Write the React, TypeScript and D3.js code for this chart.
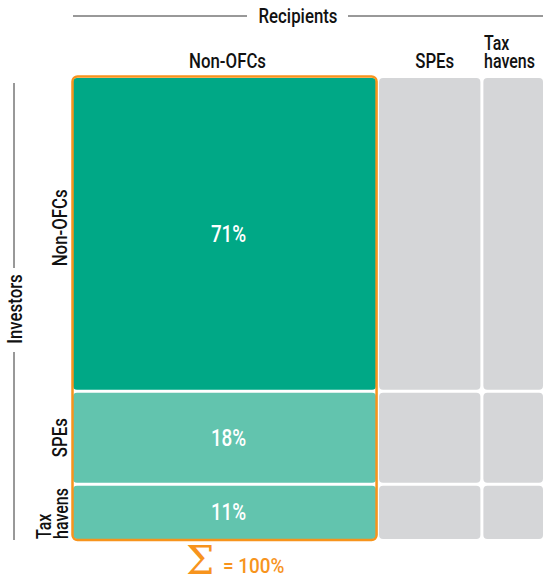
import React from "react";
import * as d3 from "d3";

const recipients = ["Non-OFCs", "SPEs", "Tax havens"];
const investors = ["Non-OFCs", "SPEs", "Tax havens"];
const shares = [71, 18, 11];
const investorRowWeights = [68.5, 19.8, 11.7];
const recipientColWeights = [305, 102, 60];
const totalLabel = "= 100%";

const W = 543;
const H = 579;
const FONT = "Roboto, 'Liberation Sans', sans-serif";

type TProps = {
  x: number;
  y: number;
  rot?: number;
  size?: number;
  weight?: number | string;
  fill?: string;
  anchor?: "start" | "middle" | "end";
  sx?: number;
  children: React.ReactNode;
};

function T({ x, y, rot = 0, size = 20.5, weight = 500, fill = "#111", anchor = "start", sx = 0.82, children }: TProps) {
  return (
    <g transform={`translate(${x},${y}) rotate(${rot}) scale(${sx},1)`}>
      <text x={0} y={0} fontSize={size} fontWeight={weight} fill={fill} textAnchor={anchor} fontFamily={FONT}>
        {children}
      </text>
    </g>
  );
}

export default function App() {
  const gridLeft = 73;
  const gridTop = 78;
  const gridBottom = 539;
  const gap = 3;

  const colEdges = d3.cumsum([0, ...recipientColWeights]);
  const x = d3.scaleLinear().domain([0, colEdges[colEdges.length - 1] + gap * 2]).range([gridLeft, gridLeft + 470]);
  const rowEdges = d3.cumsum([0, ...investorRowWeights]);
  const usableH = gridBottom - gridTop - gap * 2;
  const y = d3.scaleLinear().domain([0, rowEdges[rowEdges.length - 1]]).range([0, usableH]);

  const colX = (i: number) => x(colEdges[i] + i * gap);
  const colW = (i: number) => x(colEdges[i + 1]) - x(colEdges[i]);
  const rowY = (i: number) => gridTop + y(rowEdges[i]) + i * gap;
  const rowH = (i: number) => y(rowEdges[i + 1]) - y(rowEdges[i]);

  const fills = ["#00a886", "#62c4ae", "#62c4ae"];
  const orange = "#f7941d";

  const cells: React.ReactNode[] = [];
  investors.forEach((_, r) => {
    recipients.forEach((_, c) => {
      cells.push(
        <rect
          key={`${r}-${c}`}
          x={colX(c)}
          y={rowY(r)}
          width={colW(c)}
          height={rowH(r)}
          rx={4}
          fill={c === 0 ? fills[r] : "#d5d6d8"}
        />
      );
    });
  });

  const col0Mid = colX(0) + colW(0) / 2;
  const [tax0, tax1] = recipients[2].split(" ");
  const [itax0, itax1] = investors[2].split(" ");

  return (
    <svg width={W} height={H} style={{ position: "absolute", left: 0, top: 0, background: "#fff" }}>
      {/* Recipients header */}
      <line x1={73} x2={247} y1={16} y2={16} stroke="#333" strokeWidth={1} />
      <line x1={348} x2={543} y1={16} y2={16} stroke="#333" strokeWidth={1} />
      <T x={298} y={23} anchor="middle">Recipients</T>

      {/* Column headers */}
      <T x={col0Mid + 3} y={68} anchor="middle">{recipients[0]}</T>
      <T x={colX(1) + colW(1) / 2 + 5} y={68} anchor="middle">{recipients[1]}</T>
      <T x={484} y={50} size={19.5}>{tax0}</T>
      <T x={484} y={68} size={19.5}>{tax1}</T>

      {/* Investors side label */}
      <line x1={14} x2={14} y1={83} y2={268} stroke="#333" strokeWidth={1} />
      <line x1={14} x2={14} y1={352} y2={540} stroke="#333" strokeWidth={1} />
      <T x={22} y={309} rot={-90} anchor="middle">Investors</T>

      {/* Row labels */}
      <T x={67} y={rowY(0) + rowH(0) / 2 - 6} rot={-90} anchor="middle">{investors[0]}</T>
      <T x={67} y={rowY(1) + rowH(1) / 2} rot={-90} anchor="middle">{investors[1]}</T>
      <T x={51} y={rowY(2) + rowH(2)} rot={-90} size={19.5}>{itax0}</T>
      <T x={68} y={rowY(2) + rowH(2)} rot={-90} size={19.5}>{itax1}</T>

      {cells}

      {/* Percent labels */}
      {shares.map((s, i) => (
        <T key={i} x={col0Mid + 4} y={rowY(i) + rowH(i) / 2 + 8} anchor="middle" size={23} weight={500} fill="#fff">{`${s}%`}</T>
      ))}

      {/* Orange outline around first column */}
      <rect x={colX(0) - 0.5} y={gridTop - 1.5} width={colW(0) + 1} height={gridBottom - gridTop + 2.5} rx={5} fill="none" stroke={orange} strokeWidth={2.5} />

      {/* Sum */}
      <text x={186} y={574} fontSize={40} fill={orange} fontFamily="'DejaVu Serif', serif">Σ</text>
      <T x={223} y={573} fill={orange} size={21} weight={500} sx={0.9}>{totalLabel}</T>
    </svg>
  );
}
